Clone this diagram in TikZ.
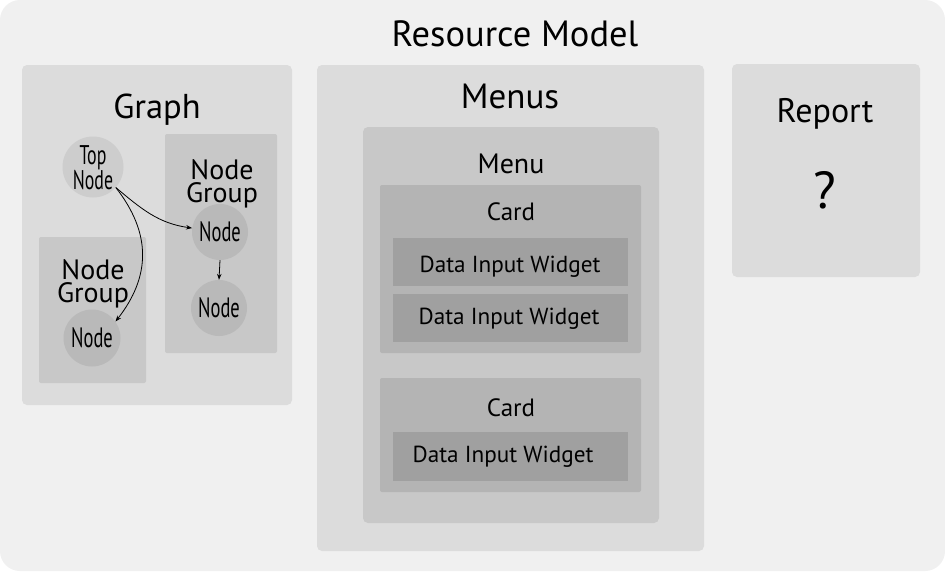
\documentclass[tikz,border=0pt]{standalone}
\usepackage{fontspec}
\setmainfont{PT Sans}
\usetikzlibrary{arrows.meta}
\definecolor{bgout}{HTML}{F0F0F0}
\definecolor{lvA}{HTML}{DCDCDC}
\definecolor{lvB}{HTML}{C8C8C8}
\definecolor{lvC}{HTML}{B4B4B4}
\definecolor{lvD}{HTML}{A0A0A0}
\definecolor{topc}{HTML}{CDCDCD}
\definecolor{nodc}{HTML}{B9B9B9}
\tikzset{
  box/.style={rounded corners=5pt},
  lbl/.style={anchor=base, inner sep=0pt, text=black},
  stack/.style={anchor=north, inner sep=0pt, align=center, text=black},
  circ/.style={circle, minimum size=#1, inner sep=0pt},
  arr/.style={-{Stealth[length=6pt,width=4.5pt]}, line width=0.8pt, black},
}
\newcommand{\cnd}[1]{\scalebox{0.66}[1]{#1}}
\begin{document}
\begin{tikzpicture}[x=1pt,y=-1pt]
\useasboundingbox (0,0) rectangle (945,573);
\fill[white] (0,0) rectangle (945,573);
\fill[bgout, rounded corners=20pt] (0,0) rectangle (945,571);
% title
\node[lbl, font=\fontsize{36.5}{40}\selectfont] (title) at (515,46) {Resource Model};

% Graph
\fill[lvA, box] (22,65) rectangle (292,405);
\node[lbl, font=\fontsize{34.5}{36}\selectfont] (graphlbl) at (157,118) {Graph};
\fill[lvB, rounded corners=2pt] (165,134) rectangle (277,353);
\fill[lvB, rounded corners=2pt] (39,237) rectangle (146,383);
\node[stack, font=\fontsize{28}{23}\selectfont] (ng1) at (222,159) {Node\\Group};
\node[stack, font=\fontsize{28}{23}\selectfont] (ng2) at (93,259) {Node\\Group};

\node[circ=61pt, fill=topc] (top) at (93,167) {};
\node[stack, font=\fontsize{27}{21}\selectfont] (toptxt) at (93,145) {\cnd{Top}\\\cnd{Node}};
\node[circ=56pt, fill=nodc, font=\fontsize{28}{30}\selectfont] (n1) at (220,232) {\cnd{Node}};
\node[circ=56pt, fill=nodc, font=\fontsize{28}{30}\selectfont] (n2) at (219,308) {\cnd{Node}};
\node[circ=57pt, fill=nodc, font=\fontsize{28}{30}\selectfont] (n3) at (92,338) {\cnd{Node}};

\draw[arr] (top.-42) to[out=-40, in=172] (n1.172);
\draw[arr] (top.-42) to[out=-52, in=52, looseness=1.1] (n3.35);
\draw[arr] (n1.south) -- (n2.north);

% Menus
\fill[lvA, box] (317,65) rectangle (704,551);
\node[lbl, font=\fontsize{35}{38}\selectfont] (menuslbl) at (510,108) {Menus};
\fill[lvB, box] (363,127) rectangle (659,523);
\node[lbl, font=\fontsize{28}{30}\selectfont] (menulbl) at (511,173) {Menu};
\fill[lvC, rounded corners=2pt] (380,185) rectangle (641,353);
\node[lbl, font=\fontsize{25}{27}\selectfont] (card1) at (511,220) {Card};
\fill[lvD] (393,238) rectangle (628,286);
\node[lbl, font=\fontsize{23.2}{24}\selectfont] (w1) at (510,272) {Data Input Widget};
\fill[lvD] (393,294) rectangle (628,342);
\node[lbl, font=\fontsize{23.2}{24}\selectfont] (w2) at (509,324) {Data Input Widget};
\fill[lvC, rounded corners=2pt] (380,378) rectangle (641,492);
\node[lbl, font=\fontsize{25}{27}\selectfont] (card2) at (511,416) {Card};
\fill[lvD] (393,432) rectangle (628,481);
\node[lbl, font=\fontsize{23.2}{24}\selectfont] (w3) at (503,462) {Data Input Widget};

% Report
\fill[lvA, box] (732,64) rectangle (920,277);
\node[lbl, font=\fontsize{34}{36}\selectfont] (replbl) at (825,122) {Report};
\node[lbl, font=\fontsize{52}{54}\selectfont] (q) at (825,208) {?};
\end{tikzpicture}
\end{document}
